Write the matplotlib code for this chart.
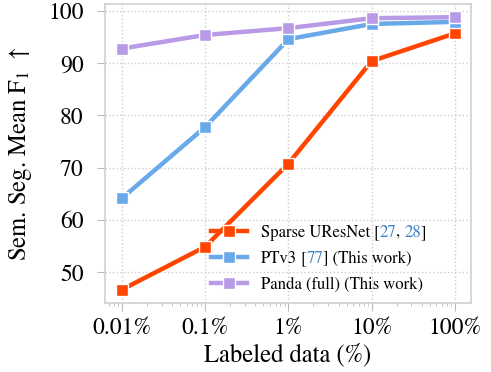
import matplotlib
matplotlib.use("Agg")
import matplotlib.pyplot as plt
import numpy as np

plt.rcParams['font.family'] = ['STIXGeneral', 'DejaVu Serif']
plt.rcParams['mathtext.fontset'] = 'stix'

labeled = [0.01, 0.1, 1, 10, 100]
tick_labels = ['0.01%', '0.1%', '1%', '10%', '100%']
sparse_uresnet = [46.7, 54.9, 70.8, 90.4, 95.7]
ptv3 = [64.2, 77.8, 94.6, 97.5, 97.9]
panda = [92.8, 95.4, 96.7, 98.6, 98.8]

c_orange = '#ff4500'
c_blue = '#69a9e9'
c_purple = '#b89ae6'
c_ref = '#3b7cc4'

fig = plt.figure(figsize=(4.91, 3.72), dpi=100)
ax = fig.add_axes([0.214, 0.185, 0.745, 0.804])

kw = dict(marker='s', markersize=9, markeredgecolor='white', markeredgewidth=1.0, linewidth=3.2)
ax.plot(labeled, sparse_uresnet, color=c_orange, label='Sparse UResNet', zorder=3, **kw)
ax.plot(labeled, ptv3, color=c_blue, label='PTv3', zorder=4, **kw)
ax.plot(labeled, panda, color=c_purple, label='Panda (full) (This work)', zorder=5, **kw)

ax.set_xscale('log')
ax.set_xlim(0.00625, 156)
ax.set_ylim(44.1, 101.3)
ax.set_xticks(labeled)
ax.set_xticklabels(tick_labels)
ax.set_yticks([50, 60, 70, 80, 90, 100])
ax.tick_params(axis='both', labelsize=17, color='#bbbbbb', length=5.5, width=0.8)
ax.tick_params(axis='y', pad=10)
ax.tick_params(axis='x', pad=5)
ax.tick_params(axis='x', which='minor', color='#bbbbbb', length=2.5, width=0.6)
ax.grid(True, linestyle=':', color='#cccccc', linewidth=1.0)
for s in ax.spines.values():
    s.set_color('#d0d0d0')
    s.set_linewidth(1.2)

ax.set_xlabel('Labeled data (%)', fontsize=17.7, labelpad=3)
ax.set_ylabel(r'Sem. Seg. Mean F$_1$ $\uparrow$', fontsize=17.7, labelpad=10)

leg = ax.legend(loc='lower left', bbox_to_anchor=(0.27, 0.012), frameon=False, fontsize=12,
                handlelength=2.2, handletextpad=0.8, labelspacing=0.6, borderaxespad=0.0)
fig.canvas.draw()
texts = leg.get_texts()


def chain(start, pieces):
    prev = start
    for s, col in pieces:
        prev = ax.annotate(s, xy=(1, 0), xycoords=prev, va='bottom', ha='left',
                           fontsize=12, color=col, annotation_clip=False)
    return prev


chain(texts[0], [(' [', 'black'), ('27', c_ref), (', ', 'black'), ('28', c_ref), (']', 'black')])
chain(texts[1], [(' [', 'black'), ('77', c_ref), ('] (This work)', 'black')])

fig.savefig('out.png', dpi=100)
